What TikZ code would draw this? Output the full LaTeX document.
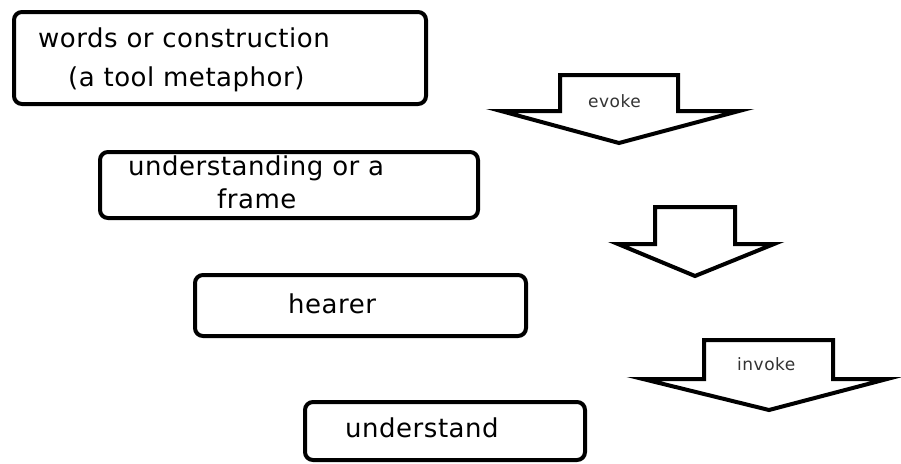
\documentclass[tikz,border=0pt]{standalone}
\usepackage{fontspec}
\setmainfont{DejaVu Sans}[LetterSpace=2]
\newfontfamily\labelfont{DejaVu Sans}[LetterSpace=3]
\begin{document}
\begin{tikzpicture}[x=1pt,y=-1pt,
  stagebox/.style={draw=black,line width=4pt,rounded corners=8pt,fill=white},
  stagetext/.style={anchor=base west,inner sep=0pt,font=\fontsize{26}{30}\selectfont},
  flowarrow/.style={draw=black,line width=4pt,fill=white,line join=miter,miter limit=10},
  arrowtext/.style={anchor=base west,inner sep=0pt,text=black!80,font=\labelfont\fontsize{17}{20}\selectfont}]
\useasboundingbox (0,0) rectangle (901,463);

% stage boxes
\draw[stagebox] (14,12) rectangle (426,104);
\draw[stagebox] (100,152) rectangle (478,218);
\draw[stagebox] (195,275) rectangle (526,336);
\draw[stagebox] (305,402) rectangle (585,460);

% box texts
\node[stagetext] (t1a) at (38,47) {words or construction};
\node[stagetext] (t1b) at (68,86) {(a tool metaphor)};
\node[stagetext] (t2a) at (128,175) {understanding or a};
\node[stagetext] (t2b) at (217,208) {frame};
\node[stagetext] (t3) at (288,313) {hearer};
\node[stagetext] (t4) at (345,437) {understand};

% block arrows between stages
\draw[flowarrow] (560,75) -- (678,75) -- (678,111) -- (739,111) -- (619,143)
  -- (501,111) -- (560,111) -- cycle;
\draw[flowarrow] (655,207) -- (735,207) -- (735,244) -- (774,244) -- (695,276)
  -- (618,244) -- (655,244) -- cycle;
\draw[flowarrow] (704,340) -- (833,340) -- (833,379) -- (887,379) -- (769,410)
  -- (643,379) -- (704,379) -- cycle;

% arrow labels
\node[arrowtext] (evoke) at (588,107) {evoke};
\node[arrowtext] (invoke) at (737,370) {invoke};
\end{tikzpicture}
\end{document}
